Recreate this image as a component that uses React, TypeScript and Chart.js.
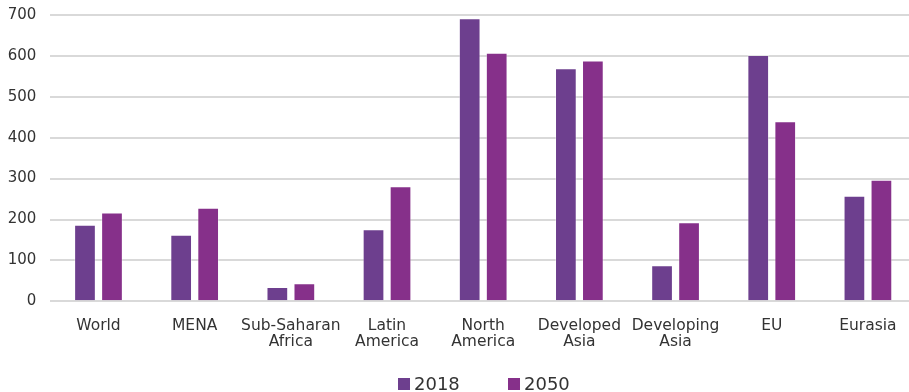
import React, { useEffect, useRef } from "react";
import { Chart, registerables } from "chart.js";

Chart.register(...registerables);

const categories: (string | string[])[] = [
  "World",
  "MENA",
  ["Sub-Saharan", "Africa"],
  ["Latin", "America"],
  ["North", "America"],
  ["Developed", "Asia"],
  ["Developing", "Asia"],
  "EU",
  "Eurasia",
];
const seriesLabels = ["2018", "2050"];
const values2018 = [187, 163, 35, 176, 692, 570, 88, 602, 258];
const values2050 = [217, 229, 44, 281, 608, 589, 193, 440, 297];
const yTicks = [0, 100, 200, 300, 400, 500, 600, 700];
const colors = ["#6D3F8E", "#86308A"];

const FONT = "'DejaVu Sans', Verdana, sans-serif";

const customLegend = {
  id: "customLegend",
  afterDraw(chart: any) {
    const ctx = chart.ctx;
    ctx.save();
    ctx.font = `18px ${FONT}`;
    ctx.textBaseline = "middle";
    ctx.textAlign = "left";
    const xs = [398, 508];
    const yMid = 384;
    chart.data.datasets.forEach((ds: any, i: number) => {
      ctx.fillStyle = ds.backgroundColor;
      ctx.fillRect(xs[i], yMid - 6, 12, 12);
      ctx.fillStyle = "#333333";
      ctx.fillText(ds.label, xs[i] + 16, yMid + 1);
    });
    ctx.restore();
  },
};

export default function App() {
  const ref = useRef<HTMLCanvasElement | null>(null);
  useEffect(() => {
    if (!ref.current) return;
    const chart = new Chart(ref.current, {
      type: "bar",
      data: {
        labels: categories,
        datasets: [
          {
            label: seriesLabels[0],
            data: values2018,
            backgroundColor: colors[0],
            borderColor: "rgba(255,255,255,0.35)",
            borderWidth: 1,
            categoryPercentage: 0.5616,
            barPercentage: 0.804,
          },
          {
            label: seriesLabels[1],
            data: values2050,
            backgroundColor: colors[1],
            borderColor: "rgba(255,255,255,0.35)",
            borderWidth: 1,
            categoryPercentage: 0.5616,
            barPercentage: 0.804,
          },
        ],
      },
      plugins: [customLegend],
      options: {
        animation: false,
        responsive: false,
        maintainAspectRatio: false,
        layout: { padding: { left: 8, right: 0, top: 15, bottom: 0 } },
        plugins: {
          tooltip: { enabled: false },
          legend: { display: false },
        },
        scales: {
          x: {
            grid: { display: false, drawTicks: false },
            border: { display: false },
            afterFit: (axis: any) => {
              axis.height = 90.7;
              axis.paddingLeft = 0;
              axis.paddingRight = 0;
            },
            ticks: {
              color: "#333333",
              font: { family: FONT, size: 15.5, lineHeight: 1.08 },
              padding: 16,
              maxRotation: 0,
              autoSkip: false,
            },
          },
          y: {
            min: 0,
            max: 700,
            afterBuildTicks: (axis: any) => {
              axis.ticks = yTicks.map((v) => ({ value: v }));
            },
            afterFit: (axis: any) => {
              axis.width = 42.4;
              axis.paddingTop = 0;
              axis.paddingBottom = 0;
            },
            grid: { color: "#D9D9D9", lineWidth: 2, drawTicks: false },
            border: { display: false },
            ticks: {
              color: "#333333",
              font: { family: FONT, size: 15 },
              padding: 14,
            },
          },
        },
      },
    });
    return () => chart.destroy();
  }, []);
  return (
    <div style={{ position: "absolute", left: 0, top: 0, width: 909, height: 392, overflow: "hidden" }}>
      <canvas ref={ref} width={916} height={392} style={{ width: 916, height: 392, display: "block" }} />
    </div>
  );
}
